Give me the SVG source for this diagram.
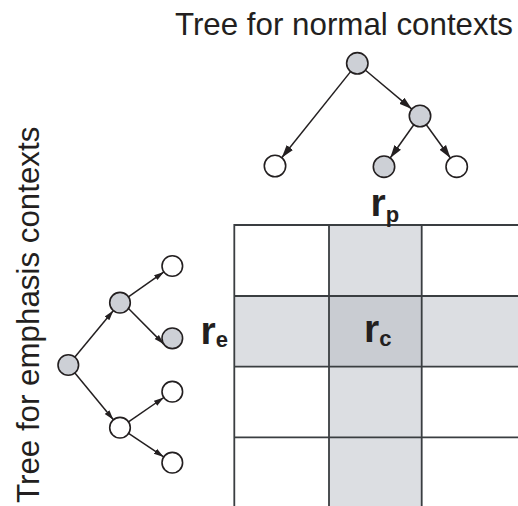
<svg xmlns="http://www.w3.org/2000/svg" width="518" height="506" viewBox="0 0 518 506">
<defs>
<style>
.lbl{font-family:"Liberation Sans",Arial,sans-serif;font-size:31.3px;fill:#231f20}
.sym{font-family:"Liberation Sans",Arial,sans-serif;font-weight:bold;fill:#231f20}
.node{stroke:#231f20;stroke-width:1.6}
.g{fill:#cdd0d6}
.w{fill:#ffffff}
.edge{stroke:#231f20;stroke-width:1.5;fill:none}
.gl{stroke:#3a3e41;stroke-width:1.8;fill:none}
</style>
<marker id="ahL" markerUnits="userSpaceOnUse" markerWidth="14" markerHeight="10" viewBox="0 0 14 10" refX="13" refY="5" orient="auto">
<path d="M0,1 L13,5 L0,9 Z" fill="#231f20"/>
</marker>
<marker id="ahS" markerUnits="userSpaceOnUse" markerWidth="11" markerHeight="8" viewBox="0 0 11 8" refX="10" refY="4" orient="auto">
<path d="M0,1 L10,4 L0,7 Z" fill="#231f20"/>
</marker>
</defs>
<rect width="518" height="506" fill="#ffffff"/>

<g id="grid">
<rect x="329" y="225" width="92.7" height="281" fill="#dcdee2"/>
<rect x="234.3" y="296" width="283.7" height="70.7" fill="#dcdee2"/>
<rect x="329" y="296" width="92.7" height="70.7" fill="#c9ccd2"/>
<path class="gl" d="M234.3,506 V225 H518 M329,225 V506 M421.7,225 V506 M234.3,296 H518 M234.3,366.7 H518 M234.3,437.3 H518"/>
</g>

<g id="labels">
<text class="lbl" x="513" y="35" text-anchor="end">Tree for normal contexts</text>
<text class="lbl" transform="translate(39,503) rotate(-90)">Tree for emphasis contexts</text>
<text class="sym" x="370.5" y="215.7" font-size="39">r<tspan font-size="22" dy="6">p</tspan></text>
<text class="sym" x="364" y="341.7" font-size="39">r<tspan font-size="22" dy="4">c</tspan></text>
<text class="sym" x="200.5" y="344" font-size="39">r<tspan font-size="22" dy="3">e</tspan></text>
</g>

<g id="connectors">
<line class="edge" x1="350.6" y1="71.6" x2="281.7" y2="157.7" marker-end="url(#ahL)"/>
<line class="edge" x1="365.5" y1="70.2" x2="411.8" y2="109.1" marker-end="url(#ahL)"/>
<line class="edge" x1="413.8" y1="124.7" x2="390.2" y2="158" marker-end="url(#ahL)"/>
<line class="edge" x1="426.3" y1="124.7" x2="450.4" y2="158" marker-end="url(#ahL)"/>
<line class="edge" x1="74.9" y1="357.1" x2="113.4" y2="310.6" marker-end="url(#ahS)"/>
<line class="edge" x1="74.9" y1="372.9" x2="113.4" y2="419.8" marker-end="url(#ahS)"/>
<line class="edge" x1="128.4" y1="296.8" x2="163.9" y2="271.9" marker-end="url(#ahS)"/>
<line class="edge" x1="128.5" y1="308.5" x2="163.8" y2="344.1" marker-end="url(#ahS)"/>
<line class="edge" x1="128.5" y1="421.9" x2="163.8" y2="397.5" marker-end="url(#ahS)"/>
<line class="edge" x1="128.6" y1="433.4" x2="163.7" y2="456.9" marker-end="url(#ahS)"/>
</g>

<g id="t1-root"><circle class="node g" cx="357.3" cy="63.3" r="10.7"/></g>
<g id="t1-n2"><circle class="node g" cx="420" cy="116" r="10.7"/></g>
<g id="t1-leaf1"><circle class="node w" cx="275" cy="166" r="10.7"/></g>
<g id="t1-leaf2"><circle class="node g" cx="384" cy="166.7" r="10.7"/></g>
<g id="t1-leaf3"><circle class="node w" cx="456.7" cy="166.7" r="10.7"/></g>

<g id="t2-root"><circle class="node g" cx="68.3" cy="365" r="10.3"/></g>
<g id="t2-up"><circle class="node g" cx="120" cy="302.7" r="10.3"/></g>
<g id="t2-down"><circle class="node w" cx="120" cy="427.7" r="10.3"/></g>
<g id="t2-leaf1"><circle class="node w" cx="172.3" cy="266" r="10.3"/></g>
<g id="t2-leaf2"><circle class="node g" cx="172.3" cy="338.3" r="10.3"/></g>
<g id="t2-leaf3"><circle class="node w" cx="172.3" cy="391.7" r="10.3"/></g>
<g id="t2-leaf4"><circle class="node w" cx="172.3" cy="462.7" r="10.3"/></g>
</svg>
